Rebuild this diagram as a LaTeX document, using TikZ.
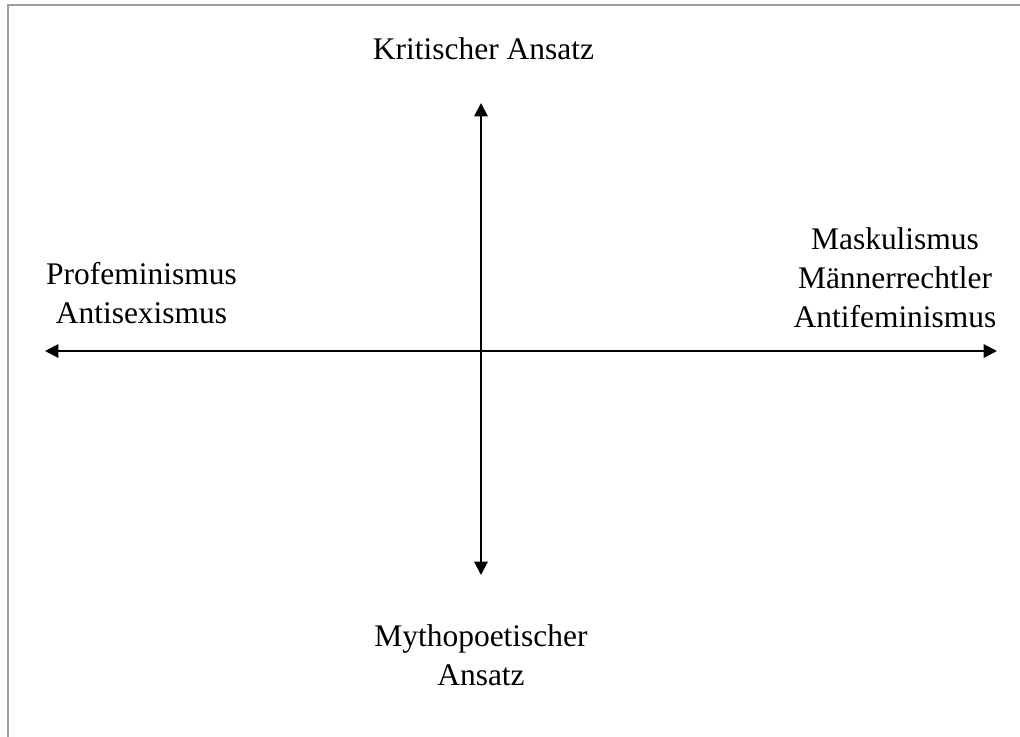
\documentclass[tikz,border=0pt]{standalone}
\usepackage{fontspec}
\setmainfont{Liberation Serif}
\usetikzlibrary{arrows.meta,positioning}

\begin{document}
\begin{tikzpicture}[
    % 1 Einheit = 1 Pixel der Vorlage
        x=0.75pt, y=-0.75pt,
    % Beschriftung der Achsenenden
        label/.style={align=center, inner sep=0pt, font=\fontsize{23.6}{29}\selectfont},
        axis/.style={{Triangle[length=10pt,width=10pt]}-{Triangle[length=10pt,width=10pt]}, line width=1.5pt},
        frame/.style={draw=black!38, line width=1.5pt}
    ]
    \useasboundingbox (0,0) rectangle (1020,736);

    % --- RAHMEN ---
    \draw[frame] (7.5,737) -- (7.5,4.5) -- (1021,4.5);

    % --- ACHSEN ---
    \coordinate (left) at (45,351);
    \coordinate (right) at (997,351);
    \coordinate (top) at (481,103);
    \coordinate (bottom) at (481,575);

    \draw[axis] (left) -- (right);
    \draw[axis] (top) -- (bottom);

    % --- BESCHRIFTUNGEN ---
    \node[label, anchor=base] (kritisch) at (483.5,59) {Kritischer Ansatz};
    \node[label, anchor=base] (profem) at (141.5,323) {Profeminismus\\Antisexismus};
    \node[label, anchor=base] (mask) at (895,327) {Maskulismus\\Männerrechtler\\Antifeminismus};
    \node[label, anchor=base] (mytho) at (481,685) {Mythopoetischer\\Ansatz};
\end{tikzpicture}
\end{document}
